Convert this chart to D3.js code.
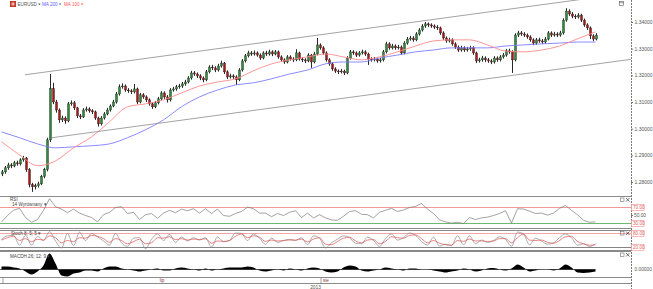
<!DOCTYPE html>
<html>
<head>
<meta charset="utf-8">
<script src="https://cdn.jsdelivr.net/npm/d3@7"></script>
<style>
  body { margin: 0; background: #fff; }
  svg { display: block; font-family: "Liberation Sans", Arial, sans-serif; }
</style>
</head>
<body>
<svg id="chart" width="653" height="289"></svg>
<script>
// ---- data (EURUSD bars) ----
const open = [
  1.2830,1.2838,1.2853,1.2864,1.2860,1.2872,1.2868,1.2883,1.2890,1.2846,
  1.2790,1.2782,1.2786,1.2793,1.2820,1.2846,1.2958,1.3150,1.3100,1.3070,
  1.3033,1.3040,1.3029,1.3093,1.3097,1.3078,1.3048,1.3044,1.3070,1.3074,
  1.3067,1.3063,1.3040,1.3018,1.3040,1.3055,1.3070,1.3085,1.3100,1.3130,
  1.3157,1.3160,1.3145,1.3142,1.3138,1.3149,1.3100,1.3127,1.3119,1.3108,
  1.3093,1.3082,1.3097,1.3112,1.3134,1.3119,1.3108,1.3145,1.3149,1.3157,
  1.3160,1.3168,1.3175,1.3190,1.3209,1.3205,1.3198,1.3190,1.3183,1.3213,
  1.3231,1.3228,1.3220,1.3235,1.3246,1.3213,1.3194,1.3198,1.3194,1.3183,
  1.3220,1.3254,1.3273,1.3284,1.3280,1.3284,1.3276,1.3265,1.3284,1.3280,
  1.3288,1.3280,1.3288,1.3269,1.3258,1.3250,1.3269,1.3261,1.3258,1.3284,
  1.3261,1.3258,1.3254,1.3276,1.3250,1.3280,1.3314,1.3303,1.3284,1.3258,
  1.3243,1.3224,1.3216,1.3213,1.3216,1.3209,1.3265,1.3288,1.3284,1.3276,
  1.3284,1.3288,1.3280,1.3261,1.3258,1.3261,1.3254,1.3258,1.3288,1.3318,
  1.3303,1.3310,1.3303,1.3306,1.3284,1.3321,1.3336,1.3340,1.3333,1.3355,
  1.3370,1.3385,1.3393,1.3389,1.3385,1.3381,1.3378,1.3359,1.3340,1.3329,
  1.3333,1.3318,1.3306,1.3295,1.3303,1.3295,1.3299,1.3303,1.3284,1.3254,
  1.3258,1.3265,1.3258,1.3254,1.3250,1.3265,1.3258,1.3269,1.3276,1.3292,
  1.3288,1.3258,1.3351,1.3359,1.3355,1.3351,1.3344,1.3333,1.3321,1.3333,
  1.3329,1.3325,1.3336,1.3359,1.3351,1.3355,1.3351,1.3359,1.3407,1.3441,
  1.3430,1.3422,1.3419,1.3426,1.3407,1.3389,1.3378,1.3348,1.3336
];
const high = [
  1.2845,1.2860,1.2872,1.2871,1.2879,1.2880,1.2889,1.2898,1.2894,1.2852,
  1.2797,1.2794,1.2801,1.2827,1.2853,1.2966,1.3205,1.3172,1.3108,1.3076,
  1.3049,1.3046,1.3100,1.3106,1.3104,1.3082,1.3055,1.3077,1.3083,1.3080,
  1.3073,1.3068,1.3045,1.3047,1.3062,1.3078,1.3091,1.3108,1.3138,1.3166,
  1.3170,1.3166,1.3152,1.3148,1.3168,1.3154,1.3134,1.3133,1.3125,1.3114,
  1.3099,1.3104,1.3119,1.3141,1.3140,1.3126,1.3152,1.3157,1.3164,1.3168,
  1.3175,1.3183,1.3197,1.3217,1.3216,1.3211,1.3204,1.3196,1.3220,1.3238,
  1.3239,1.3234,1.3243,1.3255,1.3250,1.3219,1.3206,1.3204,1.3200,1.3227,
  1.3261,1.3280,1.3292,1.3291,1.3293,1.3290,1.3282,1.3290,1.3292,1.3296,
  1.3294,1.3295,1.3293,1.3275,1.3264,1.3276,1.3275,1.3268,1.3298,1.3289,
  1.3267,1.3264,1.3283,1.3280,1.3288,1.3340,1.3320,1.3309,1.3290,1.3264,
  1.3249,1.3230,1.3222,1.3224,1.3221,1.3272,1.3295,1.3294,1.3290,1.3291,
  1.3296,1.3294,1.3285,1.3268,1.3269,1.3267,1.3265,1.3295,1.3326,1.3324,
  1.3318,1.3316,1.3314,1.3312,1.3328,1.3344,1.3348,1.3347,1.3362,1.3377,
  1.3392,1.3400,1.3398,1.3395,1.3391,1.3388,1.3383,1.3365,1.3346,1.3341,
  1.3339,1.3324,1.3312,1.3311,1.3309,1.3307,1.3311,1.3309,1.3289,1.3266,
  1.3273,1.3271,1.3265,1.3261,1.3272,1.3271,1.3276,1.3284,1.3299,1.3300,
  1.3294,1.3358,1.3367,1.3366,1.3362,1.3357,1.3350,1.3339,1.3340,1.3341,
  1.3336,1.3344,1.3366,1.3365,1.3363,1.3362,1.3367,1.3414,1.3452,1.3448,
  1.3437,1.3429,1.3433,1.3431,1.3413,1.3395,1.3383,1.3354,1.3358
];
const low = [
  1.2822,1.2831,1.2846,1.2852,1.2855,1.2861,1.2862,1.2876,1.2838,1.2780,
  1.2763,1.2772,1.2779,1.2788,1.2814,1.2840,1.2950,1.3092,1.3060,1.3022,
  1.3025,1.3018,1.3024,1.3086,1.3070,1.3040,1.3036,1.3040,1.3064,1.3060,
  1.3055,1.3033,1.3008,1.3012,1.3034,1.3050,1.3064,1.3080,1.3094,1.3124,
  1.3150,1.3138,1.3134,1.3130,1.3132,1.3092,1.3095,1.3112,1.3100,1.3086,
  1.3074,1.3077,1.3091,1.3106,1.3112,1.3098,1.3102,1.3139,1.3142,1.3150,
  1.3153,1.3161,1.3170,1.3184,1.3198,1.3190,1.3182,1.3174,1.3178,1.3207,
  1.3220,1.3212,1.3214,1.3229,1.3205,1.3186,1.3188,1.3186,1.3164,1.3178,
  1.3214,1.3248,1.3267,1.3273,1.3274,1.3270,1.3258,1.3260,1.3273,1.3274,
  1.3272,1.3275,1.3262,1.3251,1.3243,1.3245,1.3255,1.3250,1.3253,1.3255,
  1.3250,1.3246,1.3249,1.3228,1.3245,1.3275,1.3296,1.3277,1.3251,1.3236,
  1.3217,1.3209,1.3205,1.3207,1.3201,1.3204,1.3259,1.3277,1.3269,1.3270,
  1.3278,1.3273,1.3239,1.3251,1.3252,1.3247,1.3248,1.3252,1.3282,1.3296,
  1.3297,1.3296,1.3297,1.3277,1.3279,1.3315,1.3330,1.3326,1.3328,1.3349,
  1.3364,1.3378,1.3381,1.3378,1.3374,1.3370,1.3352,1.3333,1.3322,1.3323,
  1.3311,1.3299,1.3288,1.3289,1.3288,1.3289,1.3292,1.3277,1.3246,1.3248,
  1.3251,1.3250,1.3247,1.3242,1.3244,1.3251,1.3252,1.3263,1.3270,1.3281,
  1.3209,1.3252,1.3344,1.3348,1.3344,1.3337,1.3326,1.3313,1.3315,1.3322,
  1.3317,1.3319,1.3331,1.3344,1.3345,1.3344,1.3345,1.3353,1.3401,1.3423,
  1.3414,1.3411,1.3413,1.3400,1.3382,1.3370,1.3336,1.3328,1.3331
];
const close = [
  1.2838,1.2853,1.2864,1.2860,1.2872,1.2868,1.2883,1.2890,1.2846,1.2790,
  1.2782,1.2786,1.2793,1.2820,1.2846,1.2958,1.3150,1.3100,1.3070,1.3033,
  1.3040,1.3029,1.3093,1.3097,1.3078,1.3048,1.3044,1.3070,1.3074,1.3067,
  1.3063,1.3040,1.3018,1.3040,1.3055,1.3070,1.3085,1.3100,1.3130,1.3157,
  1.3160,1.3145,1.3142,1.3138,1.3149,1.3100,1.3127,1.3119,1.3108,1.3093,
  1.3082,1.3097,1.3112,1.3134,1.3119,1.3108,1.3145,1.3149,1.3157,1.3160,
  1.3168,1.3175,1.3190,1.3209,1.3205,1.3198,1.3190,1.3183,1.3213,1.3231,
  1.3228,1.3220,1.3235,1.3246,1.3213,1.3194,1.3198,1.3194,1.3183,1.3220,
  1.3254,1.3273,1.3284,1.3280,1.3284,1.3276,1.3265,1.3284,1.3280,1.3288,
  1.3280,1.3288,1.3269,1.3258,1.3250,1.3269,1.3261,1.3258,1.3284,1.3261,
  1.3258,1.3254,1.3276,1.3250,1.3280,1.3314,1.3303,1.3284,1.3258,1.3243,
  1.3224,1.3216,1.3213,1.3216,1.3209,1.3265,1.3288,1.3284,1.3276,1.3284,
  1.3288,1.3280,1.3261,1.3258,1.3261,1.3254,1.3258,1.3288,1.3318,1.3303,
  1.3310,1.3303,1.3306,1.3284,1.3321,1.3336,1.3340,1.3333,1.3355,1.3370,
  1.3385,1.3393,1.3389,1.3385,1.3381,1.3378,1.3359,1.3340,1.3329,1.3333,
  1.3318,1.3306,1.3295,1.3303,1.3295,1.3299,1.3303,1.3284,1.3254,1.3258,
  1.3265,1.3258,1.3254,1.3250,1.3265,1.3258,1.3269,1.3276,1.3292,1.3288,
  1.3258,1.3351,1.3359,1.3355,1.3351,1.3344,1.3333,1.3321,1.3333,1.3329,
  1.3325,1.3336,1.3359,1.3351,1.3355,1.3351,1.3359,1.3407,1.3441,1.3430,
  1.3422,1.3419,1.3426,1.3407,1.3389,1.3378,1.3348,1.3336,1.3351
];

// moving averages, one value every maStep bars
const maStep = 6;
const ma200 = [
  1.2988,1.2966,1.2943,1.2928,1.2932,1.2936,1.2943,1.2966,1.2996,1.3033,
  1.3082,1.3119,1.3145,1.3164,1.3172,1.3187,1.3205,1.3220,1.3243,1.3250,
  1.3250,1.3265,1.3276,1.3288,1.3295,1.3303,1.3303,1.3303,1.3310,1.3314,
  1.3318,1.3321,1.3325,1.3325
];
const ma100 = [
  1.2951,1.2902,1.2861,1.2879,1.2928,1.2969,1.3026,1.3082,1.3093,1.3108,
  1.3134,1.3160,1.3175,1.3187,1.3217,1.3243,1.3258,1.3269,1.3280,1.3269,
  1.3258,1.3269,1.3288,1.3310,1.3329,1.3333,1.3333,1.3314,1.3291,1.3288,
  1.3295,1.3310,1.3337,1.3363
];

// drawn channel: [bar index, price]
const channelUpper = [[7.8, 1.3202], [209.8, 1.3510]];
const channelLower = [[16.8, 1.2966], [209.8, 1.3260]];

// oscillators, one value every oscStep bars
const oscStep = 2;
const rsi = [
  34,50,63,68,45,33,40,63,92,72, 66,57,66,56,50,45,34,52,58,70,
  72,55,58,40,52,55,43,56,63,57, 66,62,67,56,67,55,66,50,48,55,
  60,71,67,56,56,47,55,50,58,62, 45,56,44,52,44,39,38,48,60,62,
  53,52,44,58,63,68,60,64,70,73, 80,66,55,39,34,31,33,30,45,40,
  44,46,50,55,62,31,67,66,61,55, 56,51,56,68,75,63,52,38,33,34
];
const stochK = [
  55,70,72,30,72,30,68,50,88,48, 18,80,28,86,50,80,66,48,30,80,
  40,25,60,62,14,55,78,50,76,42, 65,48,62,52,62,22,65,45,50,82,
  80,50,78,60,34,60,42,50,55,50, 62,32,70,60,18,40,56,70,62,38,
  36,64,50,25,58,78,52,62,82,72, 46,30,64,26,34,28,70,32,70,36,
  52,42,50,66,55,25,86,78,32,60, 48,34,40,62,78,62,30,36,24,36
];
const stochD = [
  52,62,68,50,58,45,55,52,70,62, 40,50,45,62,60,72,68,58,42,58,
  50,36,45,55,36,40,62,60,66,54, 58,52,56,54,58,38,48,46,50,68,
  78,62,70,64,46,52,48,50,52,52, 56,44,56,62,34,32,46,60,64,48,
  40,52,54,36,46,66,62,60,72,74, 58,40,50,38,32,30,50,46,56,48,
  48,46,48,58,58,40,62,78,52,50, 52,42,38,50,66,68,46,36,30,32
];
// MACD histogram in units of 1e-4
const macdHist = [
  3,3,2,1,-2,-5,-2,4,16,6, -6,-7,-4,-3,-1,-1,-2,1,3,3,
  1,0,-1,-2,-1,0,1,-1,-1,1, 2,1,0,-1,1,-1,0,1,2,2,
  2,3,2,-1,-2,-1,0,-1,1,0, -1,1,2,1,-2,-3,-2,2,4,3,
  -1,-2,-1,0,2,1,0,-1,1,1, 0,0,-1,-2,-3,-2,-1,1,0,-2,
  -1,1,1.5,0,-1,1,5,2,-2,-1, 0,0,-1,1,5,2,-3,-3.5,-3,-2
];

const priceTicks = [1.28, 1.29, 1.30, 1.31, 1.32, 1.33, 1.34];
const monthBounds = [0.5, 106.5];
const monthLabels = [{label: "lip", from: 0.5, to: 106.5, mid: true}, {label: "sie", from: 106.5, mid: false}];
const yearLabel = "2013";

// ---- layout ----
const svg = d3.select("#chart");
const axisX = 631;
const panels = {
  main: [0, 196],
  rsi: [196, 228],
  stoch: [230, 250],
  macd: [251, 277]
};

const x = d3.scaleLinear().domain([-0.5, 209.83]).range([0, axisX]);
const yPrice = d3.scaleLinear().domain([1.28, 1.34]).range([182, 22]);
const yRsi = d3.scaleLinear().domain([30, 70]).range([223.5, 207.5]);
const yStoch = d3.scaleLinear().domain([20, 80]).range([247.5, 233.5]);
const yMacd = d3.scaleLinear().domain([0, 16]).range([269.5, 253.5]);

const defs = svg.append("defs");
Object.entries(panels).forEach(([k, [t, b]]) => {
  defs.append("clipPath").attr("id", "clip-" + k)
    .append("rect").attr("x", 0).attr("y", t).attr("width", axisX).attr("height", b - t);
});

// ---- main price panel ----
const main = svg.append("g").attr("clip-path", "url(#clip-main)");
const bars = close.map((c, i) => ({i, o: open[i], h: high[i], l: low[i], c}));

const candle = main.append("g").selectAll("g").data(bars).enter().append("g");
candle.append("line")
  .attr("x1", d => Math.round(x(d.i)) + 0.5).attr("x2", d => Math.round(x(d.i)) + 0.5)
  .attr("y1", d => yPrice(d.h)).attr("y2", d => yPrice(d.l))
  .attr("stroke", "#111").attr("stroke-width", 0.9);
candle.append("rect")
  .attr("x", d => Math.round(x(d.i)) - 0.5)
  .attr("width", 2)
  .attr("y", d => yPrice(Math.max(d.o, d.c)))
  .attr("height", d => Math.max(0.8, Math.abs(yPrice(d.o) - yPrice(d.c))))
  .attr("fill", d => d.c >= d.o ? "#2e8b3a" : "#b01515")
  .attr("stroke", "#222").attr("stroke-width", 0.4);

const maLine = d3.line().x((d, k) => x(k * maStep)).y(d => yPrice(d)).curve(d3.curveMonotoneX);
main.append("path").datum(ma200).attr("d", maLine)
  .attr("fill", "none").attr("stroke", "#7d7dff").attr("stroke-width", 0.9);
main.append("path").datum(ma100).attr("d", maLine)
  .attr("fill", "none").attr("stroke", "#ff8a8a").attr("stroke-width", 0.9);

[channelUpper, channelLower].forEach(seg => {
  main.append("line")
    .attr("x1", x(seg[0][0])).attr("y1", yPrice(seg[0][1]))
    .attr("x2", x(seg[1][0])).attr("y2", yPrice(seg[1][1]))
    .attr("stroke", "#8c8c8c").attr("stroke-width", 0.8);
});

// legend
const leg = svg.append("g").attr("font-size", 4.6);
leg.append("rect").attr("x", 10).attr("y", 1).attr("width", 6).attr("height", 6).attr("fill", "#c0392b");
leg.append("rect").attr("x", 11.5).attr("y", 2.5).attr("width", 3).attr("height", 3).attr("fill", "#f1b0a8");
[["EURUSD", 17.5, "#555"], ["MA 200", 42, "#6060ff"], ["MA 100", 64, "#ff5a5a"]].forEach(([t, lx, col]) => {
  const tx = leg.append("text").attr("x", lx).attr("y", 6).attr("fill", col).text(t);
  const w = tx.node().getComputedTextLength();
  leg.append("path").attr("d", `M${lx + w + 1.2},3.5h2.6l-1.3,1.8z`).attr("fill", col);
});
svg.append("rect").attr("x", 619.5).attr("y", 1.5).attr("width", 4).attr("height", 4)
  .attr("fill", "none").attr("stroke", "#555").attr("stroke-width", 0.6);
svg.append("line").attr("x1", 619.5).attr("x2", 623.5).attr("y1", 2.7).attr("y2", 2.7).attr("stroke", "#555").attr("stroke-width", 0.6);

// ---- RSI ----
const rsiG = svg.append("g").attr("clip-path", "url(#clip-rsi)");
rsiG.append("line").attr("x1", 0).attr("x2", axisX).attr("y1", yRsi(70)).attr("y2", yRsi(70)).attr("stroke", "#f29a9a").attr("stroke-width", 1);
rsiG.append("line").attr("x1", 0).attr("x2", axisX).attr("y1", yRsi(30)).attr("y2", yRsi(30)).attr("stroke", "#6fb86f").attr("stroke-width", 1);
rsiG.append("path").datum(rsi)
  .attr("d", d3.line().x((d, k) => x(k * oscStep)).y(d => yRsi(d)))
  .attr("fill", "none").attr("stroke", "#7a7a7a").attr("stroke-width", 0.7);

// ---- Stochastic ----
const stG = svg.append("g").attr("clip-path", "url(#clip-stoch)");
stG.append("line").attr("x1", 0).attr("x2", axisX).attr("y1", yStoch(80)).attr("y2", yStoch(80)).attr("stroke", "#f4a6a6").attr("stroke-width", 1);
stG.append("line").attr("x1", 0).attr("x2", axisX).attr("y1", yStoch(20)).attr("y2", yStoch(20)).attr("stroke", "#666").attr("stroke-width", 0.8);
const stLine = d3.line().x((d, k) => x(k * oscStep)).y(d => yStoch(d)).curve(d3.curveMonotoneX);
stG.append("path").datum(stochK).attr("d", stLine).attr("fill", "none").attr("stroke", "#8a8a8a").attr("stroke-width", 0.7);
stG.append("path").datum(stochD).attr("d", stLine).attr("fill", "none").attr("stroke", "#e05050").attr("stroke-width", 0.7);

// ---- MACD histogram ----
const mG = svg.append("g").attr("clip-path", "url(#clip-macd)");
mG.append("path").datum(macdHist)
  .attr("d", d3.area().x((d, k) => x(k * oscStep)).y0(yMacd(0)).y1(d => yMacd(d)).curve(d3.curveMonotoneX))
  .attr("fill", "#000");
mG.append("line").attr("x1", 0).attr("x2", x(198)).attr("y1", yMacd(0)).attr("y2", yMacd(0)).attr("stroke", "#000").attr("stroke-width", 0.6);

// ---- panel frames ----
[196, 228, 230, 250, 251, 277, 283].forEach(yy => {
  svg.append("line").attr("x1", 0).attr("x2", axisX).attr("y1", yy + 0.5).attr("y2", yy + 0.5)
    .attr("stroke", "#8a8a8a").attr("stroke-width", 1);
});

// panel titles
const ttl = svg.append("g").attr("font-size", 4.6).attr("fill", "#444");
ttl.append("text").attr("x", 10).attr("y", 201).text("RSI");
ttl.append("text").attr("x", 12).attr("y", 206).text("14 Wyrównany ▾");
ttl.append("text").attr("x", 11).attr("y", 234.5).text("Stoch 8; 5; 5 ▾");
ttl.append("text").attr("x", 10).attr("y", 258).text("MACDH 26; 12; 9 ▾");

// panel buttons
[198, 231.5, 253].forEach(yy => {
  svg.append("rect").attr("x", 620.5).attr("y", yy).attr("width", 3.5).attr("height", 3.5)
    .attr("fill", "none").attr("stroke", "#555").attr("stroke-width", 0.5);
  svg.append("path").attr("d", `M626,${yy}l3.5,3.5M629.5,${yy}l-3.5,3.5`)
    .attr("stroke", "#333").attr("stroke-width", 0.7);
});

// ---- right axis ----
svg.append("line").attr("x1", axisX + 0.5).attr("x2", axisX + 0.5).attr("y1", 0).attr("y2", 289)
  .attr("stroke", "#777").attr("stroke-width", 1).attr("stroke-dasharray", "2,1");
const yAxis = svg.append("g").attr("transform", `translate(${axisX},0)`)
  .call(d3.axisRight(yPrice).tickValues(priceTicks).tickFormat(d3.format(".5f")).tickSize(2).tickPadding(1.5));
yAxis.select(".domain").remove();
yAxis.selectAll("text").attr("font-size", 5).attr("fill", "#555").attr("font-family", "Liberation Sans, Arial, sans-serif");
yAxis.selectAll("line").attr("stroke", "#777");

function boxLabel(yy, txt) {
  svg.append("rect").attr("x", axisX + 0.5).attr("y", yy - 3).attr("width", 12.5).attr("height", 6)
    .attr("fill", "#fff").attr("stroke", "#f08a8a").attr("stroke-width", 0.6);
  svg.append("text").attr("x", axisX + 2).attr("y", yy + 1.8).attr("font-size", 4.6)
    .attr("fill", "#e06060").text(txt);
}
boxLabel(yRsi(70), "70.00");
boxLabel(yRsi(30), "30.00");
boxLabel(yStoch(80), "80.00");
boxLabel(yStoch(20), "20.00");
svg.append("line").attr("x1", axisX).attr("x2", axisX + 2).attr("y1", yRsi(50)).attr("y2", yRsi(50)).attr("stroke", "#777");
svg.append("text").attr("x", axisX + 3).attr("y", yRsi(50) + 1.8).attr("font-size", 4.8).attr("fill", "#555").text("50.00");
svg.append("text").attr("x", axisX + 3.5).attr("y", yMacd(0) + 1.8).attr("font-size", 4.8).attr("fill", "#555").text("0.00000");

// ---- time strip ----
monthBounds.forEach(b => {
  svg.append("line").attr("x1", x(b)).attr("x2", x(b)).attr("y1", 277).attr("y2", 284)
    .attr("stroke", "#8a8a8a").attr("stroke-width", 0.8);
});
monthLabels.forEach(m => {
  const tx = m.mid ? (x(m.from) + x(m.to)) / 2 : x(m.from) + 2;
  svg.append("text").attr("x", tx).attr("y", 282).attr("font-size", 4.6).attr("fill", "#8b3a3a")
    .attr("text-anchor", m.mid ? "middle" : "start").text(m.label);
});
svg.append("text").attr("x", axisX / 2).attr("y", 288.5).attr("font-size", 4.8).attr("fill", "#555")
  .attr("text-anchor", "middle").text(yearLabel);
</script>
</body>
</html>
